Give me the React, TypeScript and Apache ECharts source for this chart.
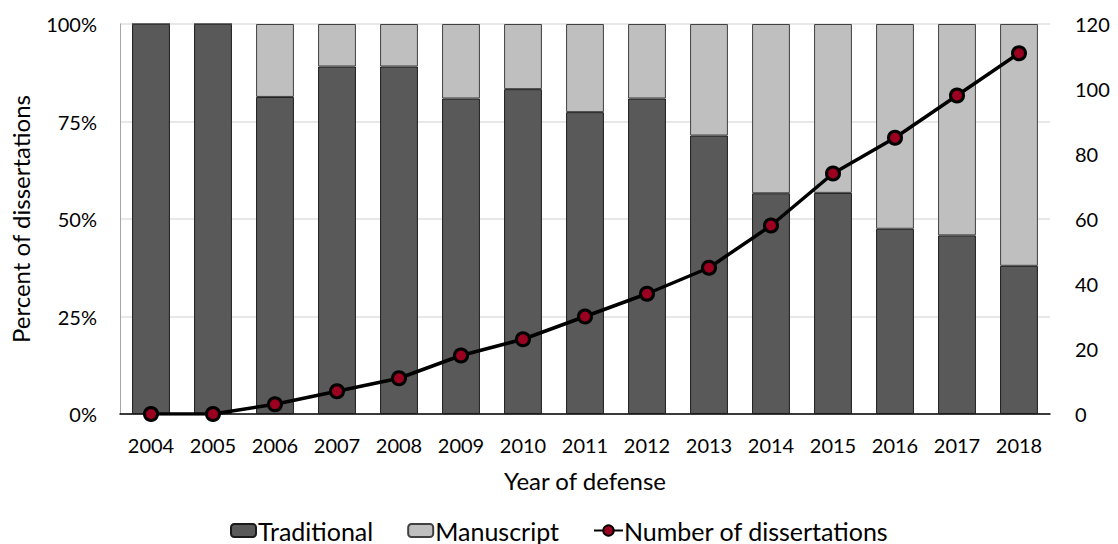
import React, { useEffect, useRef } from "react";
import * as echarts from "echarts";

const years = ["2004","2005","2006","2007","2008","2009","2010","2011","2012","2013","2014","2015","2016","2017","2018"];
const traditional = [100, 100, 81.3, 89.1, 89.1, 80.9, 83.3, 77.4, 80.9, 71.4, 56.6, 56.7, 47.5, 45.8, 38.0];
const manuscript = [0, 0, 18.7, 10.9, 10.9, 19.1, 16.7, 22.6, 19.1, 28.6, 43.4, 43.3, 52.5, 54.2, 62.0];
const dissertations = [0, 0, 3, 7, 11, 18, 23, 30, 37, 45, 58, 74, 85, 98, 111];

const FONT = "Lato";
const TICK = 20;
const TITLE = 24;
const LEG = 25;

export default function App() {
  const ref = useRef<HTMLDivElement>(null);
  useEffect(() => {
    document.body.style.margin = "0";
    if (!ref.current) return;
    const chart = echarts.init(ref.current, undefined, { renderer: "svg" });
    chart.setOption({
      animation: false,
      textStyle: { fontFamily: FONT, color: "#000" },
      grid: { left: 115, right: 68, top: 24, bottom: 130, containLabel: false },
      legend: [
        {
          data: ["Traditional", "Manuscript"],
          left: 230,
          top: 518,
          padding: 0,
          itemWidth: 25,
          itemHeight: 13,
          itemGap: 34,
          textStyle: { fontFamily: FONT, fontSize: LEG, color: "#000", padding: [0, 0, 0, -3] },
        },
        {
          data: ["Number of dissertations"],
          left: 593,
          top: 518,
          padding: 0,
          itemWidth: 29,
          itemHeight: 13,
          textStyle: { fontFamily: FONT, fontSize: LEG, color: "#000", padding: [0, 0, 0, -4] },
        },
      ],
      xAxis: {
        type: "category",
        data: years,
        name: "Year of defense",
        nameLocation: "middle",
        nameGap: 54,
        nameTextStyle: { fontFamily: FONT, fontSize: TITLE, color: "#000" },
        axisLine: { lineStyle: { color: "#000", width: 1.5 } },
        axisTick: { show: false },
        axisLabel: { fontFamily: FONT, fontSize: TICK, color: "#000", margin: 21 },
      },
      yAxis: [
        {
          type: "value",
          min: 0,
          max: 100,
          interval: 25,
          name: "Percent of dissertations",
          nameLocation: "middle",
          nameGap: 88,
          nameTextStyle: { fontFamily: FONT, fontSize: TITLE, color: "#000" },
          axisLine: { show: true, lineStyle: { color: "#a6a6a6" } },
          axisTick: { show: false },
          axisLabel: { fontFamily: FONT, fontSize: TICK, color: "#000", margin: 23, formatter: "{value}%" },
          splitLine: { lineStyle: { color: "#e0e0e0", width: 1.5 } },
        },
        {
          type: "value",
          min: 0,
          max: 120,
          interval: 20,
          position: "right",
          axisLine: { show: false },
          axisTick: { show: false },
          axisLabel: { fontFamily: FONT, fontSize: TICK, color: "#000", margin: 25 },
          splitLine: { show: false },
        },
      ],
      series: [
        {
          name: "Traditional",
          type: "bar",
          stack: "pct",
          data: traditional,
          barWidth: "61%",
          itemStyle: { color: "#595959", borderColor: "#1a1a1a", borderWidth: 1 },
        },
        {
          name: "Manuscript",
          type: "bar",
          stack: "pct",
          data: manuscript,
          barWidth: "61%",
          itemStyle: { color: "#bfbfbf", borderColor: "#404040", borderWidth: 1 },
        },
        {
          name: "Number of dissertations",
          type: "line",
          yAxisIndex: 1,
          data: dissertations,
          symbol: "circle",
          symbolSize: 13,
          lineStyle: { color: "#000", width: 3.5 },
          itemStyle: { color: "#9b0020", borderColor: "#000", borderWidth: 3 },
          z: 5,
        },
      ],
    });
    return () => chart.dispose();
  }, []);
  return <div ref={ref} style={{ width: 1118, height: 544 }} />;
}
